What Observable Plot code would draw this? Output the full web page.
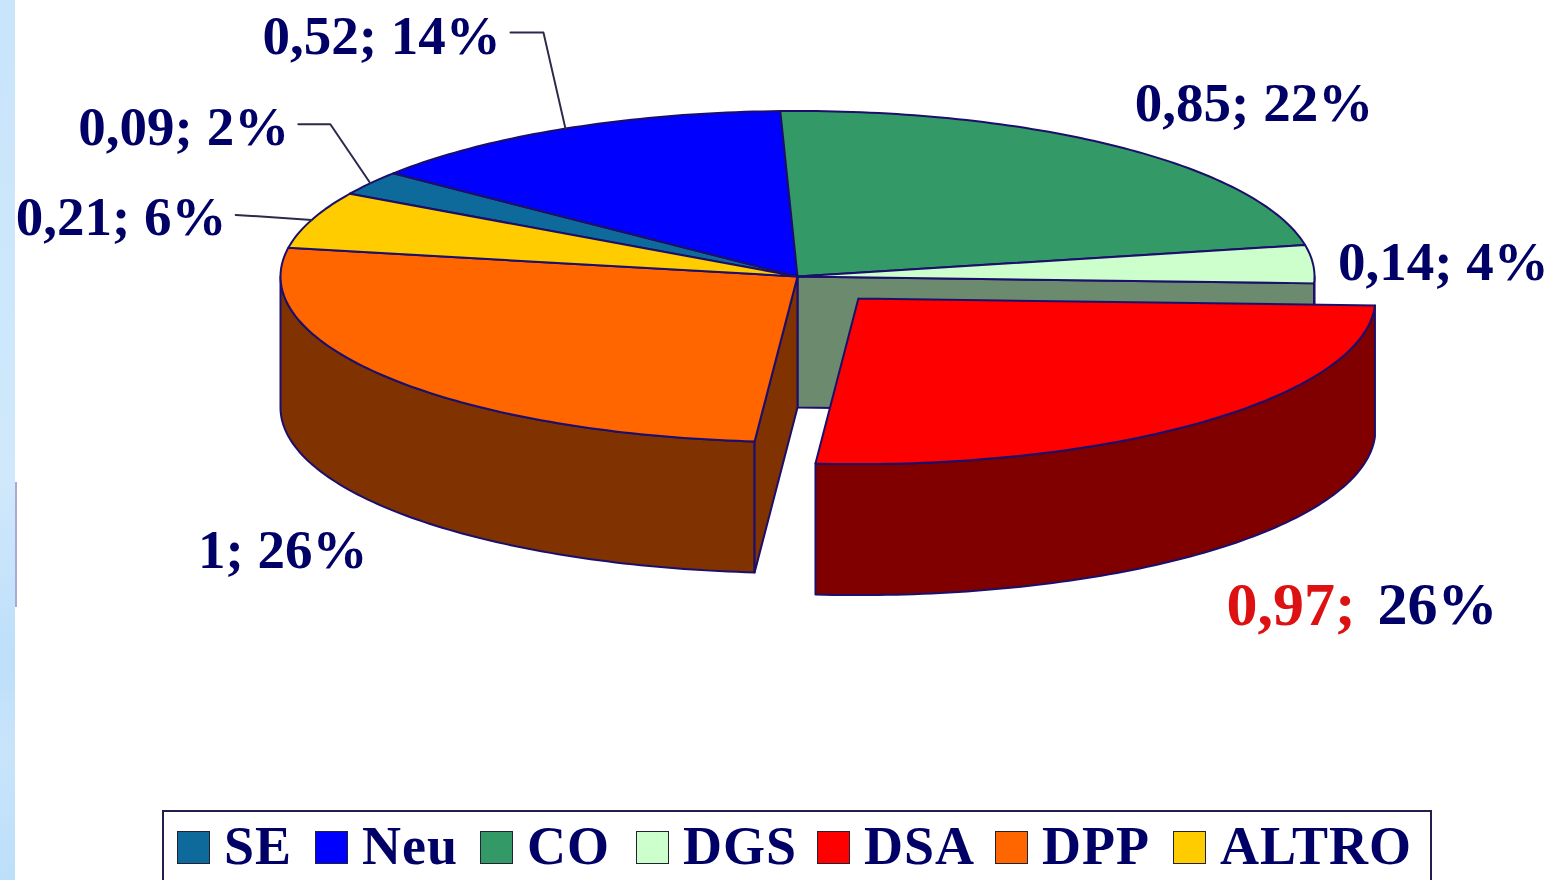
<!DOCTYPE html>
<html><head><meta charset="utf-8">
<script src="https://cdn.jsdelivr.net/npm/d3@7"></script>
<script src="https://cdn.jsdelivr.net/npm/@observablehq/plot@0.6"></script>
<style>
html,body{margin:0;padding:0;width:1550px;height:880px;overflow:hidden;background:#fff}
body{background-image:
 linear-gradient(#a9a9d6,#a9a9d6),
 linear-gradient(#c9e5fb 0%,#cfe8fc 55%,#bddffa 75%,#c8e4fb 85%,#bcdffa 100%);
 background-size:2px 125px,15px 880px;background-position:15px 482px,0 0;background-repeat:no-repeat}
#chart svg{display:block;background:transparent}
#legend{position:absolute;left:162px;top:810px;width:1266px;height:68px;border:2px solid #20204a;background:#fff;
 display:flex;align-items:center;font:bold 54px "Liberation Serif",serif;letter-spacing:1px;color:#000066;box-sizing:content-box}
#legend .it{position:absolute;display:flex;align-items:center;height:68px}
#legend i{display:block;width:33px;height:33px;margin-right:14px;border:1px solid #223;box-sizing:border-box;margin-top:2px}
</style></head>
<body><div id="chart"></div><div id="legend"></div>
<script>
const categories = ["SE","Neu","CO","DGS","DSA","DPP","ALTRO"];
const values     = [0.09,0.52,0.85,0.14,0.97,1,0.21];
const percents   = [2,14,22,4,26,26,6];
const colors     = ["#0f6a9c","#0000ff","#339966","#ccffcc","#ff0000","#ff6600","#ffcc00"];
const legendLeft = [13,151,316,472,653,831,1009];
// label placement relative to each slice's rim midpoint (pixels)
const labelOffsets = [[-296,-3],[-303,-92],[15,-44],[25,-2],[26,182],[-190,173],[-296,-3]];
labelOffsets[0]=[-292,-56];
const leaderBends  = [[[-40,-59],[-72,-59]],[[-22,-96],[-55,-96]],[],[],[],[],[[-76,-5]]];

const W=1550,H=800,cx=797,cy=276,rx=517,ry=165.5,depthPx=131,explode=0.178;
const depth=depthPx/ry, ink="#1c0f6b", navy="#000066";
const fontFamily='"Liberation Serif",serif';

const arcs=d3.pie().sort(null).startAngle(-60*Math.PI/180).endAngle(300*Math.PI/180)(values);
const mid=a=>(a.startAngle+a.endAngle)/2;
const offsets=arcs.map((a,i)=>i===4?[explode*Math.sin(mid(a)),explode*Math.cos(mid(a))]:[0,0]);
const pt=(th,o=[0,0],z=0)=>({x:o[0]+Math.sin(th),y:o[1]+Math.cos(th)-z});
const rim=(a,b,o,z=0)=>{const n=Math.max(2,Math.ceil(Math.abs(b-a)/(Math.PI/180)));
  return d3.range(n+1).map(k=>pt(a+(b-a)*k/n,o,z));};
const poly=(pts,fill)=>Plot.line([...pts,pts[0]],{x:"x",y:"y",fill,stroke:ink,strokeWidth:2,strokeLinejoin:"round"});
const face=(a,o)=>poly([{x:o[0],y:o[1]},...rim(a.startAngle,a.endAngle,o)],colors[arcs.indexOf(a)]);
const side=(a,b,o,fill)=>poly([...rim(a,b,o),...rim(a,b,o,depth).reverse()],fill);
const cut=(th,o,fill)=>poly([{x:o[0],y:o[1]},pt(th,o),pt(th,o,depth),{x:o[0],y:o[1]-depth}],fill);

const dsa=arcs[4],dpp=arcs[5],dgs=arcs[3],o0=[0,0];
const marks=[
  cut(dgs.endAngle,o0,"#6b8a6e"),
  side(Math.PI/2,dgs.endAngle,o0,"#6b8a6e"),
  side(dpp.startAngle,1.5*Math.PI,o0,"#803300"),
  cut(dpp.startAngle,o0,"#803300"),
  ...arcs.filter(a=>a!==dsa).map(a=>face(a,o0)),
  side(dsa.startAngle,dsa.endAngle,offsets[4],"#800000"),
  face(dsa,offsets[4]),
];
arcs.forEach((a,i)=>{
  const p=pt(mid(a),offsets[i]);
  if(leaderBends[i].length){
    const pts=[p,...leaderBends[i].map(([dx,dy])=>({x:p.x+dx/rx,y:p.y-dy/ry}))];
    marks.push(Plot.line(pts,{x:"x",y:"y",stroke:"#2a2a4a",strokeWidth:2}));
  }
  const [dx,dy]=labelOffsets[i];
  const val=String(values[i]).replace(".",",");
  const common={x:"x",y:"y",dy,textAnchor:"start",lineAnchor:"middle",fontWeight:"bold",fontFamily};
  if(i===4){
    marks.push(Plot.text([p],{...common,fontSize:62,dx,text:()=>val+";",fill:"#dd1111"}));
    marks.push(Plot.text([p],{...common,fontSize:60,dx:dx+151,text:()=>percents[i]+"%",fill:navy}));
  }else{
    marks.push(Plot.text([p],{...common,fontSize:55,dx,text:()=>val+"; "+percents[i]+"%",fill:navy}));
  }
});

const plot=Plot.plot({
  width:W,height:H,margin:0,
  style:{background:"transparent",fontFamily},
  x:{domain:[-cx/rx,(W-cx)/rx],range:[0,W],axis:null},
  y:{domain:[cy/ry,-(H-cy)/ry],range:[0,H],axis:null},
  marks
});
document.getElementById("chart").appendChild(plot);

const lg=document.getElementById("legend");
categories.forEach((c,i)=>{
  const it=document.createElement("div");it.className="it";it.style.left=legendLeft[i]+"px";
  const k=document.createElement("i");k.style.background=colors[i];
  const s=document.createElement("span");s.textContent=c;
  it.append(k,s);lg.appendChild(it);
});
</script></body></html>
